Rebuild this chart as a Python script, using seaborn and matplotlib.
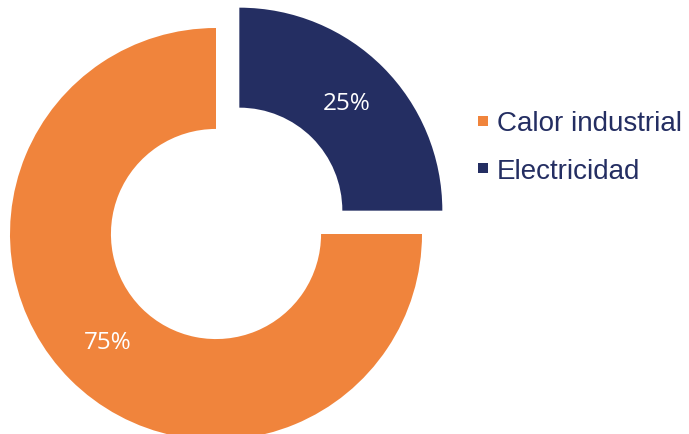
import matplotlib
matplotlib.use("Agg")
import matplotlib.pyplot as plt
import seaborn as sns
from matplotlib.lines import Line2D

sns.set_theme(style="white")
plt.rcParams['font.family'] = ['Open Sans', 'DejaVu Sans']

categories = ["Electricidad", "Calor industrial"]
values = [25, 75]
colors = ["#242E62", "#F0843C"]
legend_order = ["Calor industrial", "Electricidad"]

W, H = 689, 435
fig = plt.figure(figsize=(W / 100, H / 100), dpi=100)
ax = fig.add_axes([0, 0, 1, 1])

R = 206
wedges, texts, autotexts = ax.pie(
    values,
    colors=colors,
    startangle=90,
    counterclock=False,
    explode=[33, 0],
    radius=R,
    center=(216, H - 235),
    autopct="%d%%",
    pctdistance=0.74,
    wedgeprops=dict(width=R * 0.49, linewidth=0),
    textprops=dict(color="white", fontsize=17.5),
    frame=True,
)
wedges[0].set_radius(203)
wedges[0].set_width(100)
ax.set_xlim(0, W)
ax.set_ylim(0, H)
ax.set_aspect("equal")
ax.axis("off")

cmap = dict(zip(categories, colors))
handles = [Line2D([0], [0], marker="s", linestyle="", markersize=6.5,
                  markerfacecolor=cmap[c], markeredgewidth=0) for c in legend_order]
leg = fig.legend(handles, legend_order, loc="center left",
                 bbox_to_anchor=(450 / W, 1 - 148 / H), frameon=False,
                 handlelength=0.6, handletextpad=0.2, labelspacing=0.77,
                 prop=dict(family="Liberation Sans", size=20))
for t in leg.get_texts():
    t.set_color("#242E62")

fig.savefig("out.png", dpi=100)
